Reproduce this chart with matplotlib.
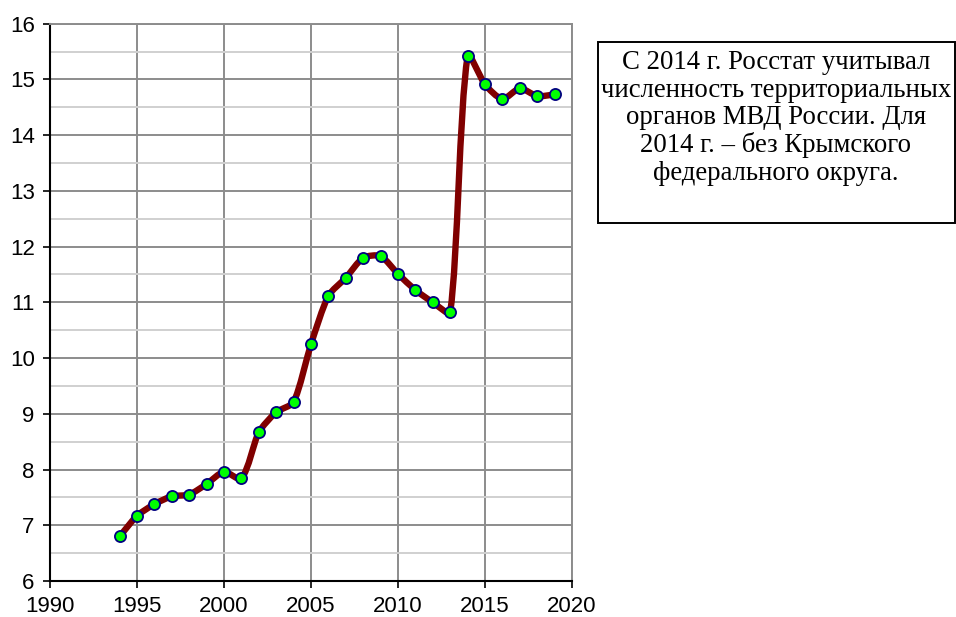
import numpy as np
import matplotlib
matplotlib.use("Agg")
import matplotlib.pyplot as plt
from matplotlib.path import Path
from matplotlib.patches import PathPatch, Rectangle
from matplotlib.ticker import MultipleLocator

years = [1994, 1995, 1996, 1997, 1998, 1999, 2000, 2001, 2002, 2003, 2004,
         2005, 2006, 2007, 2008, 2009, 2010, 2011, 2012, 2013, 2014, 2015,
         2016, 2017, 2018, 2019]
values = [6.80, 7.17, 7.38, 7.52, 7.55, 7.74, 7.96, 7.84, 8.67, 9.03, 9.21,
          10.25, 11.12, 11.44, 11.80, 11.83, 11.51, 11.22, 11.00, 10.82, 15.42, 14.91,
          14.65, 14.84, 14.70, 14.73]

note = ("С 2014 г. Росстат учитывал\n"
        "численность территориальных\n"
        "органов МВД России. Для\n"
        "2014 г. – без Крымского\n"
        "федерального округа.")

W, H = 956, 617
fig = plt.figure(figsize=(W / 100, H / 100), dpi=100)
ax_pos = [50 / W, 1 - 581 / H, 522 / W, 557.3 / H]
ax = fig.add_axes(ax_pos)

ax.set_xlim(1990, 2020)
ax.set_ylim(6, 16)
ax.xaxis.set_major_locator(MultipleLocator(5))
ax.yaxis.set_major_locator(MultipleLocator(1))
ax.yaxis.set_minor_locator(MultipleLocator(0.5))

ax.grid(True, which="major", color="#8c8c8c", lw=1.4, zorder=0)
ax.grid(True, which="minor", axis="y", color="#d0d0d0", lw=1.4, zorder=0)
ax.set_axisbelow(True)
ax.tick_params(which="minor", length=0)
ax.tick_params(which="major", length=5, width=1.2, color="black",
               labelsize=16, pad=6)
for lab in ax.get_xticklabels() + ax.get_yticklabels():
    lab.set_family("Liberation Sans")

for side in ("left", "bottom"):
    ax.spines[side].set_color("black")
    ax.spines[side].set_linewidth(1.5)
for side in ("top", "right"):
    ax.spines[side].set_color("#8c8c8c")
    ax.spines[side].set_linewidth(1.4)

# smoothed line as cubic Bezier segments (Excel style), built in screen-scaled space
sx = ax_pos[2] * W / 30.0
sy = ax_pos[3] * H / 10.0
pts = np.column_stack([np.array(years, float) * sx, np.array(values) * sy])
n = len(pts)
k = 0.22
verts = [pts[0]]
codes = [Path.MOVETO]
for i in range(n - 1):
    p0 = pts[i - 1] if i > 0 else pts[i]
    p1 = pts[i]
    p2 = pts[i + 1]
    p3 = pts[i + 2] if i + 2 < n else pts[i + 1]
    seg = np.hypot(*(p2 - p1))
    t1 = p2 - p0
    t1 = t1 / np.hypot(*t1)
    t2 = p3 - p1
    t2 = t2 / np.hypot(*t2)
    c1 = p1 + t1 * seg * k
    c2 = p2 - t2 * seg * k
    verts += [c1, c2, p2]
    codes += [Path.CURVE4] * 3
verts = np.array(verts) / np.array([sx, sy])
ax.add_patch(PathPatch(Path(verts, codes), facecolor="none", edgecolor="#800000",
                       lw=4.6, capstyle="round", joinstyle="round", zorder=3))
ax.plot(years, values, ls="none", marker="o", ms=8, mfc="#00ff00",
        mec="#000080", mew=1.3, zorder=4, clip_on=False)

fig.patches.append(Rectangle((598 / W, 1 - 223 / H), 357 / W, 181 / H,
                             transform=fig.transFigure, fill=False,
                             edgecolor="black", lw=1.4))
fig.text(776 / W, 1 - 118 / H, note, ha="center", va="center",
         multialignment="center", fontsize=19.3, family="Liberation Serif",
         linespacing=1.12)

fig.savefig("out.png", dpi=100)
